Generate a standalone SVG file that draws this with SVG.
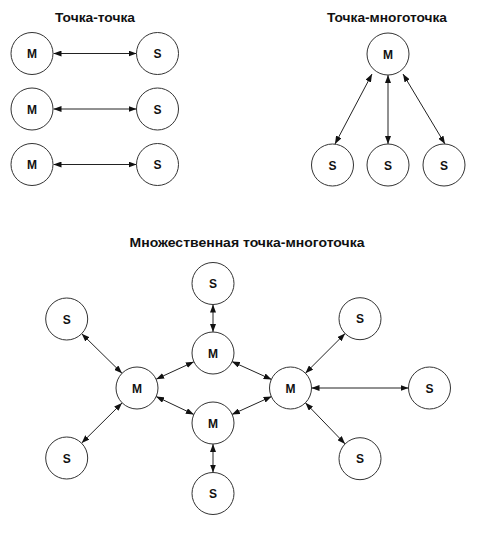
<svg xmlns="http://www.w3.org/2000/svg" width="481" height="534" viewBox="0 0 481 534">
<style>
.n circle{fill:#fff;stroke:#333;stroke-width:1}
.n text{font-family:"Liberation Sans",Arial,sans-serif;font-weight:bold;font-size:12px;fill:#111;text-anchor:middle}
.t{font-family:"Liberation Sans",Arial,sans-serif;font-weight:bold;font-size:12.5px;fill:#111;text-anchor:middle}
#edges line{stroke:#222;stroke-width:1;marker-start:url(#ah);marker-end:url(#ah)}
</style>
<defs>
<marker id="ah" markerUnits="userSpaceOnUse" markerWidth="8" markerHeight="6" refX="8" refY="3" orient="auto-start-reverse">
<path d="M0,0 L8,3 L0,6 z" fill="#111"/>
</marker>
</defs>
<rect width="481" height="534" fill="#fff"/>
<text class="t" x="95" y="22" textLength="80" lengthAdjust="spacingAndGlyphs">Точка-точка</text>
<text class="t" x="387" y="22" textLength="120" lengthAdjust="spacingAndGlyphs">Точка-многоточка</text>
<text class="t" x="247" y="247" textLength="235" lengthAdjust="spacingAndGlyphs">Множественная точка-многоточка</text>
<g id="edges">
<line x1="53.5" y1="53.5" x2="136.5" y2="53.5"/>
<line x1="53.5" y1="109" x2="136.5" y2="109"/>
<line x1="53.5" y1="164.5" x2="136.5" y2="164.5"/>
<line x1="372" y1="74" x2="335" y2="144"/>
<line x1="388" y1="75" x2="388" y2="144"/>
<line x1="403" y1="74" x2="445" y2="144"/>
<line x1="213" y1="304.5" x2="213" y2="332"/>
<line x1="213" y1="444" x2="213" y2="472.5"/>
<line x1="81.7" y1="333.7" x2="122" y2="373.3"/>
<line x1="81.7" y1="443" x2="122" y2="403"/>
<line x1="156.1" y1="379.2" x2="193.9" y2="361.8"/>
<line x1="156.1" y1="396.5" x2="193.9" y2="414.5"/>
<line x1="231.9" y1="361.5" x2="271.6" y2="379.5"/>
<line x1="231.9" y1="414.5" x2="271.6" y2="396.5"/>
<line x1="305.4" y1="373.2" x2="345.1" y2="333.5"/>
<line x1="311.5" y1="388" x2="408.5" y2="388"/>
<line x1="305.4" y1="402.8" x2="345.1" y2="443.9"/>
</g>
<g id="m1" class="n"><circle cx="32" cy="53.5" r="21"/><text x="32" y="58">M</text></g>
<g id="s1" class="n"><circle cx="157.5" cy="53.5" r="21"/><text x="157.5" y="58">S</text></g>
<g id="m2" class="n"><circle cx="32" cy="109" r="21"/><text x="32" y="113.5">M</text></g>
<g id="s2" class="n"><circle cx="157.5" cy="109" r="21"/><text x="157.5" y="113.5">S</text></g>
<g id="m3" class="n"><circle cx="32" cy="164.5" r="21"/><text x="32" y="169">M</text></g>
<g id="s3" class="n"><circle cx="157.5" cy="164.5" r="21"/><text x="157.5" y="169">S</text></g>
<g id="pm" class="n"><circle cx="388" cy="54" r="21"/><text x="388" y="58.5">M</text></g>
<g id="ps1" class="n"><circle cx="332.5" cy="165" r="21"/><text x="332.5" y="169.5">S</text></g>
<g id="ps2" class="n"><circle cx="388" cy="165" r="21"/><text x="388" y="169.5">S</text></g>
<g id="ps3" class="n"><circle cx="444" cy="165" r="21"/><text x="444" y="169.5">S</text></g>
<g id="bst" class="n"><circle cx="213" cy="283.5" r="21"/><text x="213" y="288">S</text></g>
<g id="bmu" class="n"><circle cx="213" cy="353" r="21"/><text x="213" y="357.5">M</text></g>
<g id="bml" class="n"><circle cx="137" cy="388" r="21"/><text x="137" y="392.5">M</text></g>
<g id="bmd" class="n"><circle cx="213" cy="423" r="21"/><text x="213" y="427.5">M</text></g>
<g id="bsb" class="n"><circle cx="213" cy="493.5" r="21"/><text x="213" y="498">S</text></g>
<g id="bsl1" class="n"><circle cx="66.7" cy="319" r="21"/><text x="66.7" y="323.5">S</text></g>
<g id="bsl2" class="n"><circle cx="66.7" cy="458" r="21"/><text x="66.7" y="462.5">S</text></g>
<g id="bmr" class="n"><circle cx="290.5" cy="388" r="21"/><text x="290.5" y="392.5">M</text></g>
<g id="bsr1" class="n"><circle cx="360" cy="318.7" r="21"/><text x="360" y="323.2">S</text></g>
<g id="bsr2" class="n"><circle cx="429.5" cy="388" r="21"/><text x="429.5" y="392.5">S</text></g>
<g id="bsr3" class="n"><circle cx="360" cy="458.7" r="21"/><text x="360" y="463.2">S</text></g>
</svg>
